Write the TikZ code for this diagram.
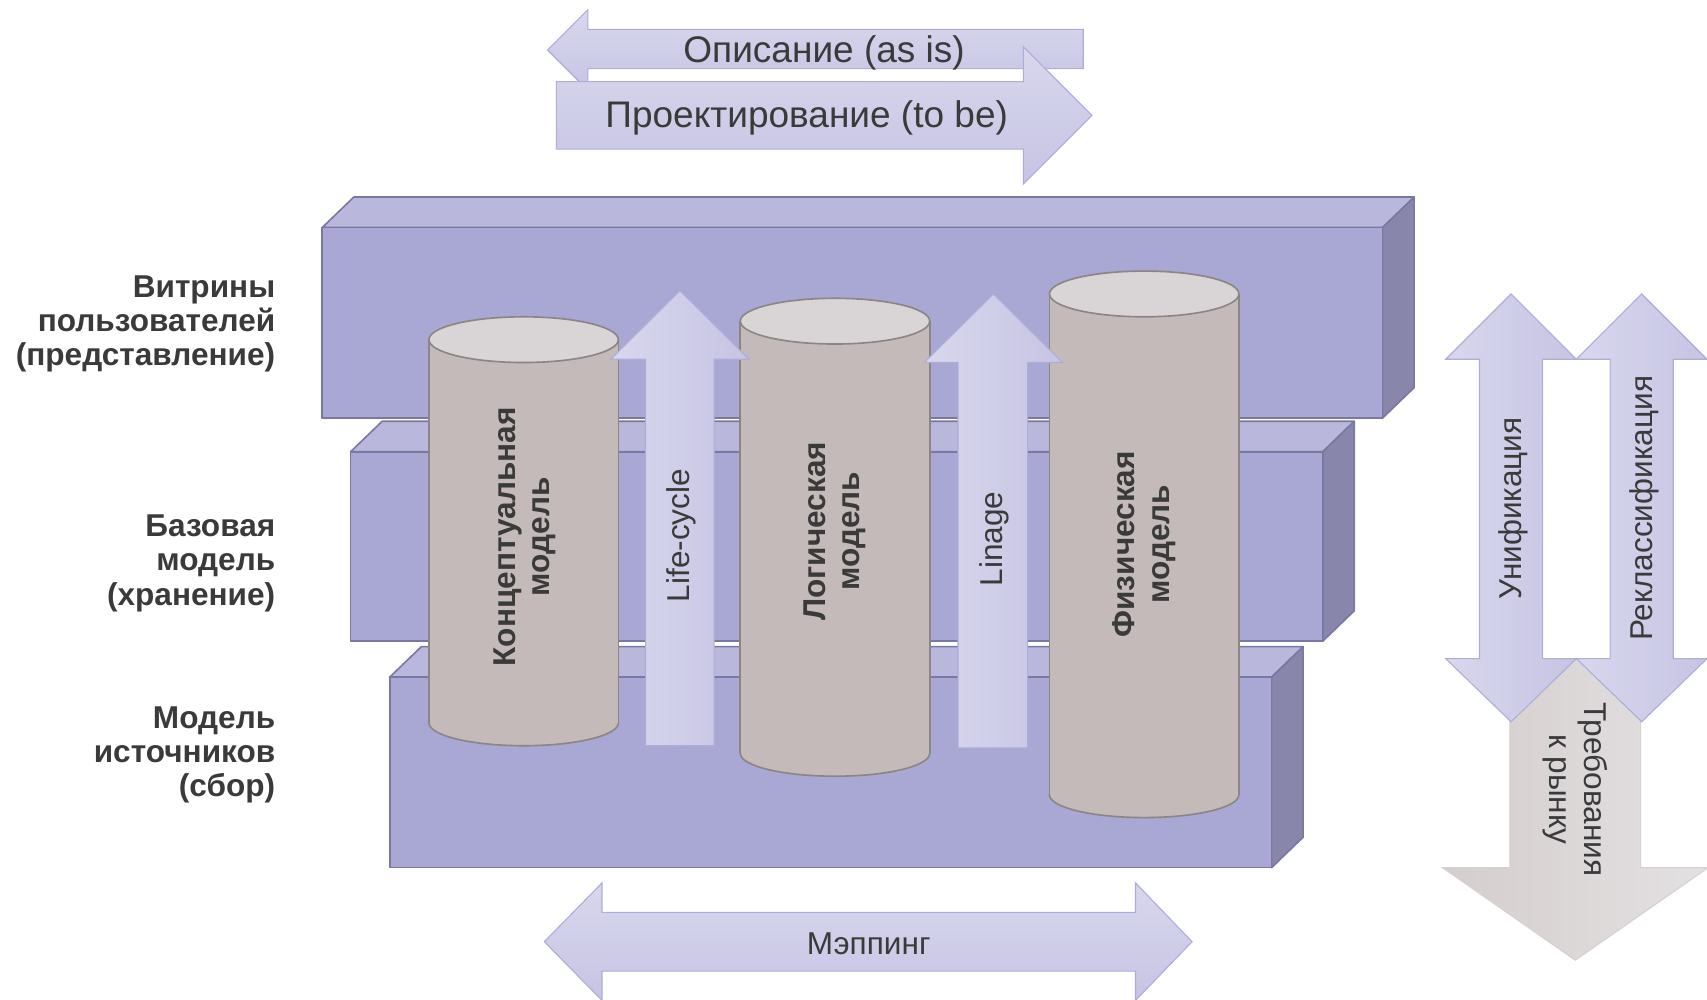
\documentclass[tikz,border=0pt]{standalone}
\usepackage{fontspec}
\setmainfont{Liberation Sans}
\definecolor{txt}{HTML}{3A3A3A}
\definecolor{boxfront}{HTML}{A9A7D3}
\definecolor{boxtop}{HTML}{B9B8DC}
\definecolor{boxside}{HTML}{8886AA}
\definecolor{boxline}{HTML}{7A78A2}
\definecolor{cylbody}{HTML}{C3BAB9}
\definecolor{cyltop}{HTML}{D9D4D5}
\definecolor{cylline}{HTML}{8C8585}
\definecolor{arlight}{HTML}{D8D7ED}
\definecolor{ardark}{HTML}{C6C4E3}
\definecolor{arline}{HTML}{AEACD9}
\definecolor{grlight}{HTML}{E4E1E2}
\definecolor{grdark}{HTML}{D4CDCD}
\definecolor{grline}{HTML}{D6D0D0}
\tikzset{
  sidelbl/.style={anchor=east,align=right,inner sep=0pt,text=txt,font=\bfseries\fontsize{29}{31.5}\selectfont},
  cyllbl/.style={rotate=90,align=center,inner sep=0pt,text=txt,font=\bfseries\fontsize{29}{31.5}\selectfont},
  arlbl/.style={inner sep=0pt,text=txt,font=\fontsize{29}{31.5}\selectfont},
  biglbl/.style={inner sep=0pt,text=txt,font=\fontsize{34}{38}\selectfont},
  hshade/.style={left color=arlight,right color=ardark,draw=arline,line width=1pt,line join=miter},
  vshade/.style={top color=arlight,bottom color=ardark,draw=arline,line width=1pt,line join=miter},
  grshade/.style={left color=grdark,right color=grlight,draw=grline,line width=1pt},
  slabline/.style={draw=boxline,line width=1.5pt,line join=round},
}
\newcommand\mySlab[4]{%
  \filldraw[fill=boxtop,slabline] (#1,#2) -- (#1+29,#2-28) -- (#3+29,#2-28) -- (#3,#2) -- cycle;
  \filldraw[fill=boxside,slabline] (#3,#2) -- (#3+29,#2-28) -- (#3+29,#4-28) -- (#3,#4) -- cycle;
  \filldraw[fill=boxfront,slabline] (#1,#2) rectangle (#3,#4);
}
\newcommand\myCyl[3]{%
  \filldraw[fill=cylbody,draw=cylline,line width=1.5pt] (#1,#3) ellipse [x radius=87,y radius=21];
  \fill[cylbody] (#1-87,#2) rectangle (#1+87,#3);
  \draw[cylline,line width=1.5pt] (#1-87,#2) -- (#1-87,#3) (#1+87,#2) -- (#1+87,#3);
  \filldraw[fill=cyltop,draw=cylline,line width=1.5pt] (#1,#2) ellipse [x radius=87,y radius=21];
}
\begin{document}
\begin{tikzpicture}[x=1pt,y=-1pt]
\useasboundingbox (0,0) rectangle (1568,918);

% top arrows
\path[vshade] (995,27) -- (540,27) -- (540,9) -- (503,46) -- (540,83) -- (540,63) -- (995,63) -- cycle;
\node[biglbl] (asis) at (757,48.5) {Описание (as is)};
\path[vshade] (511,75) -- (940,75) -- (940,43) -- (1003,106) -- (940,169) -- (940,137) -- (511,137) -- cycle;
\node[biglbl] (tobe) at (741,108.5) {Проектирование (to be)};

% slabs
\mySlab{358}{622}{1168}{797}
\mySlab{322}{415}{1215}{589}
\mySlab{296}{209}{1270}{384}

% side labels
\node[sidelbl] (vitr) at (253,297.5) {Витрины\\пользователей\\(представление)};
\node[sidelbl] (baza) at (253,517.5) {Базовая\\модель\\(хранение)};
\node[sidelbl] (ist) at (253,693.5) {Модель\\источников\\(сбор)};

% cylinders
\myCyl{481}{312}{664}
\myCyl{767}{295}{692}
\myCyl{1051}{270}{730}
\node[cyllbl] (konc) at (482,493) {Концептуальная\\модель};
\node[cyllbl] (log) at (767,488) {Логическая\\модель};
\node[cyllbl] (fiz) at (1051,500) {Физическая\\модель};

% up arrows
\path[hshade] (593,685) -- (593,330) -- (561,330) -- (624.5,267) -- (688,330) -- (656,330) -- (656,685) -- cycle;
\node[arlbl,rotate=90] (life) at (626,492) {Life-cycle};
\path[hshade] (880,687) -- (880,333) -- (849,333) -- (912.5,270) -- (976,333) -- (944,333) -- (944,687) -- cycle;
\node[arlbl,rotate=90] (linage) at (913,495) {Linage};

% mapping
\path[vshade] (553,838) -- (1043,838) -- (1043,811) -- (1095,865) -- (1043,919) -- (1043,892) -- (553,892) -- (553,919) -- (500,865) -- (553,811) -- cycle;
\node[arlbl] (map) at (798,867) {Мэппинг};

% right side
\path[grshade] (1387,605) -- (1507,605) -- (1507,797) -- (1569,797) -- (1447,882) -- (1325,797) -- (1387,797) -- cycle;
\node[arlbl,rotate=-90,align=center] (treb) at (1447,725) {Требования\\к рынку};
\path[hshade] (1359,330) -- (1328,330) -- (1388,270) -- (1448,330) -- (1417,330) -- (1417,605) -- (1448,605) -- (1388,663) -- (1328,605) -- (1359,605) -- cycle;
\node[arlbl,rotate=90] (unif) at (1390,467) {Унификация};
\path[hshade] (1479,330) -- (1448,330) -- (1508,270) -- (1568,330) -- (1537,330) -- (1537,605) -- (1568,605) -- (1508,663) -- (1448,605) -- (1479,605) -- cycle;
\node[arlbl,rotate=90] (rekl) at (1510,467) {Реклассификация};
\end{tikzpicture}
\end{document}
